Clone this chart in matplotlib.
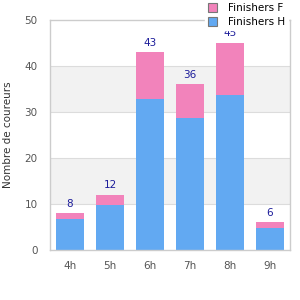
import matplotlib
matplotlib.use("Agg")
import matplotlib.pyplot as plt
from matplotlib.patches import Patch

categories = ["4h", "5h", "6h", "7h", "8h", "9h"]
finishers_h = [6.7, 9.8, 32.8, 28.8, 33.7, 4.8]
finishers_f = [1.3, 2.2, 10.2, 7.2, 11.3, 1.2]
totals = [8, 12, 43, 36, 45, 6]
y_ticks = [0, 10, 20, 30, 40, 50]

pink = "#f283bb"
blue = "#62a9f2"
grid_c = "#dcdcdc"
band_c = "#f2f2f2"

fig = plt.figure(figsize=(3, 3), dpi=100)
ax = fig.add_axes([0.1667, 0.1667, 0.8, 0.7667])

ax.set_xlim(-0.5, len(categories) - 0.5)
ax.set_ylim(0, 50)

for lo in (10, 30):
    ax.axhspan(lo, lo + 10, color=band_c, zorder=0, lw=0)
for y in y_ticks[1:-1]:
    ax.axhline(y, color=grid_c, lw=0.8, zorder=0.5)

x = list(range(len(categories)))
ax.bar(x, finishers_h, width=0.72, color=blue, zorder=2, label="Finishers H")
ax.bar(x, finishers_f, width=0.72, bottom=finishers_h, color=pink, zorder=2, label="Finishers F")

for xi, t in zip(x, totals):
    ax.text(xi, t + 1.0, str(t), ha="center", va="bottom", fontsize=7.5,
            color="#1c1c9a", zorder=3)

ax.set_xticks(x)
ax.set_xticklabels(categories)
ax.set_yticks(y_ticks)
ax.tick_params(axis="both", length=0, labelsize=7.5, colors="#555555")
ax.tick_params(axis="x", pad=8)
ax.tick_params(axis="y", pad=9)
for s in ax.spines.values():
    s.set_color("#cccccc")
    s.set_linewidth(1)

ax.set_ylabel("Nombre de coureurs", fontsize=7.5, color="#333333", labelpad=8)

handles = [Patch(facecolor=pink, edgecolor="#777777", lw=0.8, label="Finishers F"),
           Patch(facecolor=blue, edgecolor="#777777", lw=0.8, label="Finishers H")]
leg = fig.legend(handles=handles, loc="upper right", bbox_to_anchor=(0.96, 1.0),
                 fontsize=7.5, frameon=True, handlelength=0.9, handleheight=0.9,
                 handletextpad=1.0, labelspacing=0.35, borderaxespad=0.0,
                 borderpad=0.3, fancybox=False)
leg.get_frame().set_edgecolor("white")
leg.get_frame().set_facecolor("white")
leg.get_frame().set_alpha(1)
leg.set_zorder(10)

fig.savefig("out.png", dpi=100)
